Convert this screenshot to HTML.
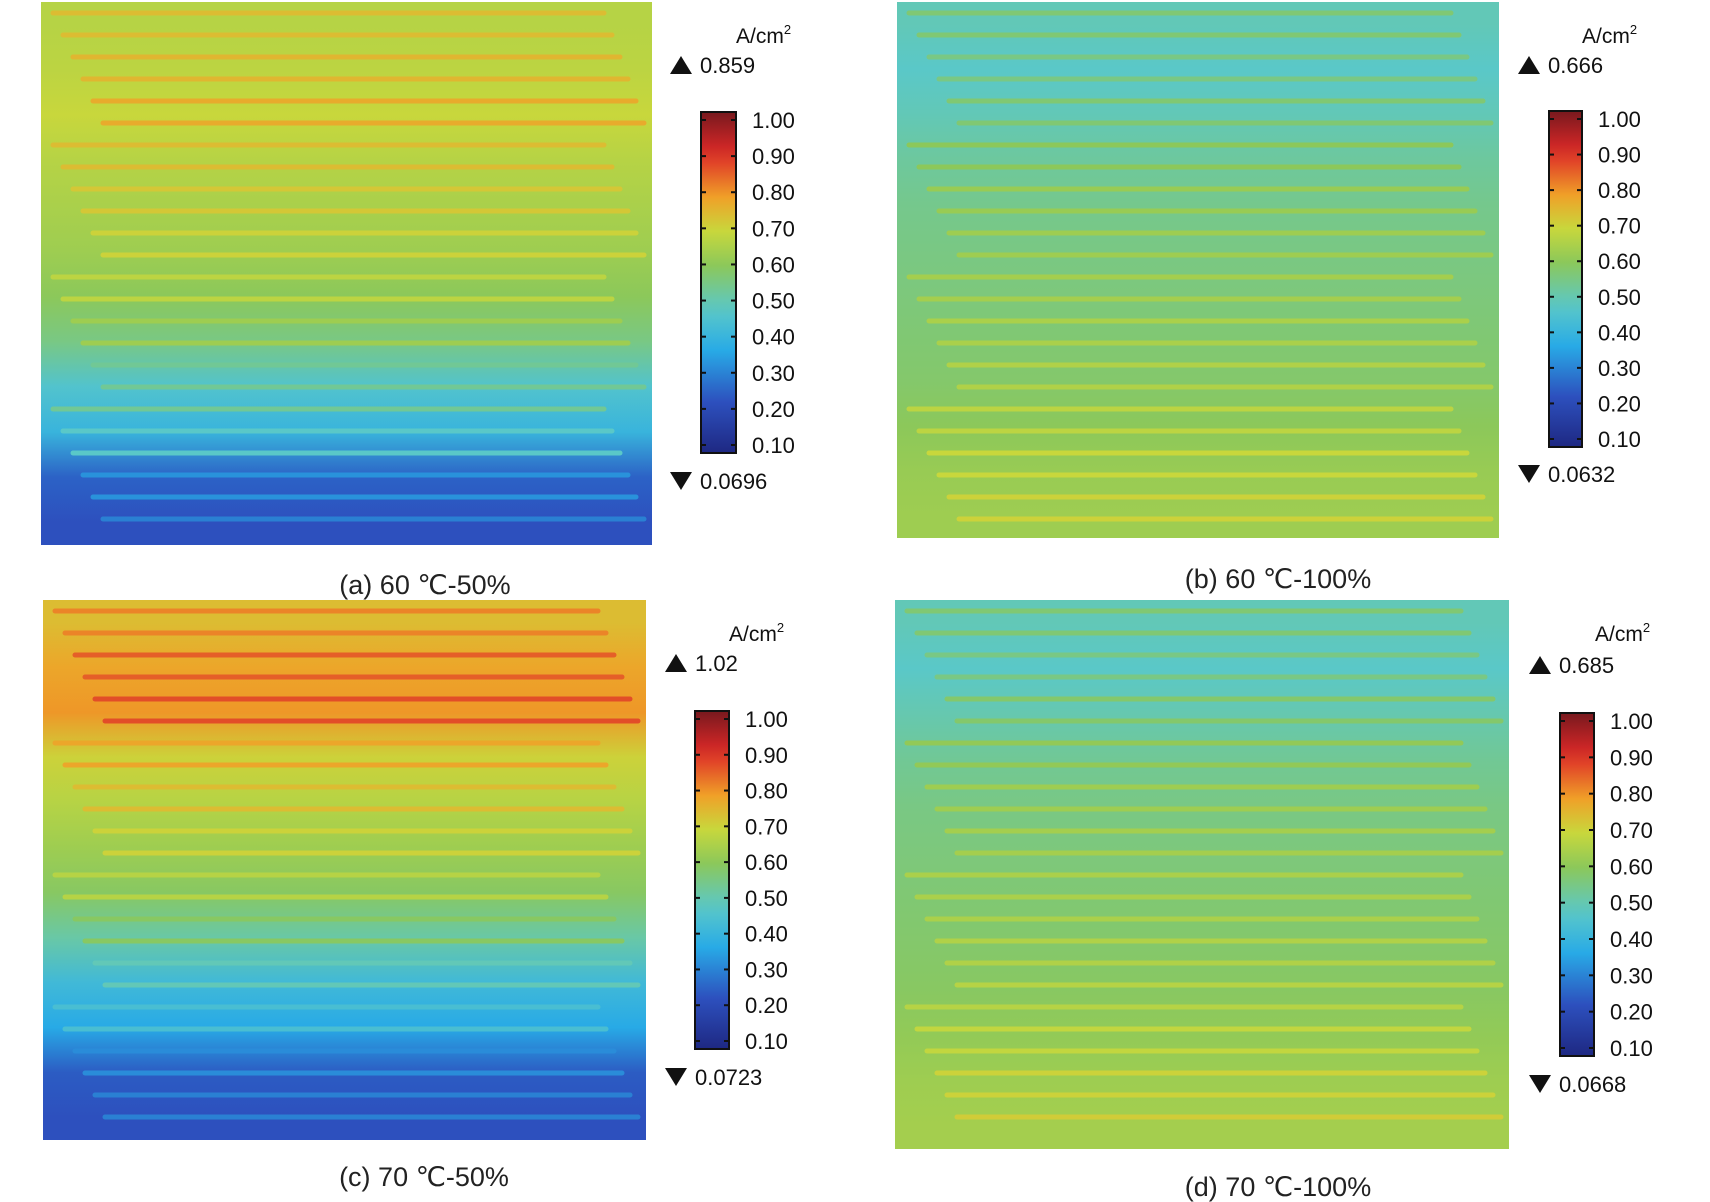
<!DOCTYPE html>
<html><head><meta charset="utf-8">
<style>
html,body{margin:0;padding:0;background:#fff;}
svg{display:block;font-family:"Liberation Sans","DejaVu Sans","Noto Sans CJK SC",sans-serif;}
</style></head>
<body>
<svg id="fig" width="1710" height="1202" viewBox="0 0 1710 1202"></svg>
<script>
// Band current density (A/cm2), top to bottom, per panel
const bandsA = [0.62,0.63,0.65,0.62,0.60,0.58,0.55,0.50,0.40,0.34,0.18,0.15];
const bandsB = [0.44,0.42,0.44,0.47,0.49,0.50,0.51,0.52,0.53,0.55,0.57,0.58];
const bandsC = [0.70,0.74,0.76,0.66,0.62,0.58,0.54,0.46,0.36,0.30,0.17,0.15];
const bandsD = [0.44,0.42,0.45,0.48,0.50,0.51,0.52,0.53,0.54,0.56,0.58,0.59];
const tickLabels = ["1.00","0.90","0.80","0.70","0.60","0.50","0.40","0.30","0.20","0.10"];
const tickValues = [1.0,0.9,0.8,0.7,0.6,0.5,0.4,0.3,0.2,0.1];
const maxLabels = ["0.859","0.666","1.02","0.685"];
const minLabels = ["0.0696","0.0632","0.0723","0.0668"];
const captions = ["(a) 60 ℃-50%","(b) 60 ℃-100%","(c) 70 ℃-50%","(d) 70 ℃-100%"];

const NS="http://www.w3.org/2000/svg";
const svg=document.getElementById('fig');
function el(t,a,p){const e=document.createElementNS(NS,t);for(const k in a)e.setAttribute(k,a[k]);(p||svg).appendChild(e);return e;}
function jet(v){
  v=Math.max(0,Math.min(1,v));
  const stops=[[0,[30,40,130]],[0.15,[45,80,190]],[0.3,[40,170,230]],[0.42,[90,200,200]],[0.55,[140,200,90]],[0.65,[200,215,60]],[0.75,[240,160,40]],[0.88,[220,40,40]],[1,[120,25,30]]];
  for(let i=1;i<stops.length;i++){if(v<=stops[i][0]){const a=stops[i-1],b=stops[i],t=(v-a[0])/(b[0]-a[0]);
    return 'rgb('+a[1].map((c,j)=>Math.round(c+(b[1][j]-c)*t)).join(',')+')';}}
  return 'rgb(120,25,30)';
}
const panels=[
 {x:41,y:2,w:611,h:543,bands:bandsA,cb:{x:701,y:112,w:35,h:341},ux:736,uy:35,tx:670,ty:65,by:481,cx:425,cy:584},
 {x:897,y:2,w:602,h:536,bands:bandsB,cb:{x:1549,y:111,w:33,h:336},ux:1582,uy:35,tx:1518,ty:65,by:474,cx:1278,cy:578},
 {x:43,y:600,w:603,h:540,bands:bandsC,cb:{x:695,y:711,w:34,h:338},ux:729,uy:633,tx:665,ty:663,by:1077,cx:424,cy:1176},
 {x:895,y:600,w:614,h:549,bands:bandsD,cb:{x:1560,y:713,w:34,h:343},ux:1595,uy:633,tx:1529,ty:665,by:1084,cx:1278,cy:1186}
];
const defs=el('defs',{});
const grad=el('linearGradient',{id:'jetg',x1:0,y1:1,x2:0,y2:0},defs);
for(let i=0;i<=20;i++){el('stop',{offset:(i/20),'stop-color':jet(i/20)},grad);}
panels.forEach((p,pi)=>{
  const g=el('g',{});
  
  
  const n=p.bands.length, bh=p.h/n;
  const pg=el('linearGradient',{id:'pg'+pi,x1:0,y1:0,x2:0,y2:1},defs);
  p.bands.forEach((v,i)=>{el('stop',{offset:((i+0.5)/n),'stop-color':jet(v)},pg);});
  const bg=el('rect',{x:p.x,y:p.y,width:p.w,height:p.h,fill:'url(#pg'+pi+')'},g);
  
  
  p.bands.forEach((v,i)=>{
    const r=el('rect',{x:p.x,y:p.y+i*bh,width:p.w,height:bh,fill:'none'},g);
    
    
  });
  const lines=Math.floor(p.h/22);
  for(let k=0;k<lines;k++){
    const yy=p.y+11+k*22, bi=Math.min(n-1,Math.floor((yy-p.y)/bh));
    const x0=p.x+12+((k%6)*10), x1=p.x+p.w-8-((5-k%6)*8);
    const l=el('line',{x1:x0,y1:yy,x2:x1,y2:yy,stroke:jet(p.bands[bi]+0.08),'stroke-width':5,'stroke-linecap':'round'},g);
    
    
  }
  const c=p.cb;
  const cr=el('rect',{x:c.x,y:c.y,width:c.w,height:c.h,fill:'url(#jetg)',stroke:'#111','stroke-width':2});
  
  
  tickValues.forEach((tv,i)=>{
    const yy=c.y+8+(c.h-16)*(i/(tickValues.length-1));
    el('line',{x1:c.x,y1:yy,x2:c.x+5,y2:yy,stroke:'#111','stroke-width':2});
    el('line',{x1:c.x+c.w-5,y1:yy,x2:c.x+c.w,y2:yy,stroke:'#111','stroke-width':2});
    const t=el('text',{x:c.x+c.w+16,y:yy+8,'font-size':22,fill:'#111'});
    t.textContent=tickLabels[i];
    
    
  });
  const u=el('text',{x:p.ux,y:p.uy+8,'font-size':21,fill:'#111'});
  u.innerHTML='A/cm<tspan dy="-9" font-size="13">2</tspan>';
  
  
  el('path',{d:`M${p.tx} ${p.ty+9} L${p.tx+11} ${p.ty-9} L${p.tx+22} ${p.ty+9}Z`,fill:'#111'});
  const mx=el('text',{x:p.tx+30,y:p.ty+8,'font-size':22,fill:'#111'});mx.textContent=maxLabels[pi];
  
  
  el('path',{d:`M${p.tx} ${p.by-9} L${p.tx+11} ${p.by+9} L${p.tx+22} ${p.by-9}Z`,fill:'#111'});
  const mn=el('text',{x:p.tx+30,y:p.by+8,'font-size':22,fill:'#111'});mn.textContent=minLabels[pi];
  
  
  const cap=el('text',{x:p.cx,y:p.cy+10,'font-size':27,fill:'#222','text-anchor':'middle'});cap.textContent=captions[pi];
  
  
});
</script>
</body></html>
